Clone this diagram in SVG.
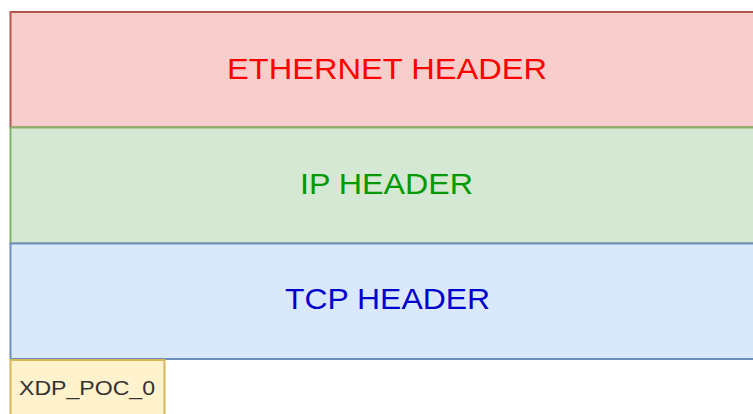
<svg xmlns="http://www.w3.org/2000/svg" width="753" height="414" viewBox="0 0 753 414">
<style>
.box{stroke-width:2}
.t{font-family:"Liberation Sans",Arial,sans-serif;text-anchor:middle}
.h{font-size:30px}
</style>
<rect x="0" y="0" width="753" height="414" fill="#ffffff"/>
<g id="ethernet">
<rect class="box" x="10.5" y="12" width="760" height="115.5" fill="#f8cecc" stroke="#b85450"/>
<text class="t h" x="387" y="79" fill="#ff0000" textLength="320" lengthAdjust="spacingAndGlyphs">ETHERNET HEADER</text>
</g>
<g id="ip">
<rect class="box" x="10.5" y="127.5" width="760" height="116" fill="#d5e8d4" stroke="#82b366"/>
<text class="t h" x="386.5" y="194" fill="#009900" textLength="173" lengthAdjust="spacingAndGlyphs">IP HEADER</text>
</g>
<g id="tcp">
<rect class="box" x="10.5" y="243.5" width="760" height="115.5" fill="#dae8fc" stroke="#6c8ebf"/>
<text class="t h" x="387.5" y="309" fill="#0000cc" textLength="205" lengthAdjust="spacingAndGlyphs">TCP HEADER</text>
</g>
<g id="xdp">
<rect class="box" x="10.5" y="360" width="154" height="70" fill="#fff2cc" stroke="#d6b656"/>
<text class="t" x="87" y="394.5" font-size="21" fill="#333333" textLength="136" lengthAdjust="spacingAndGlyphs">XDP_POC_0</text>
</g>
<g id="connectors"></g>
</svg>
